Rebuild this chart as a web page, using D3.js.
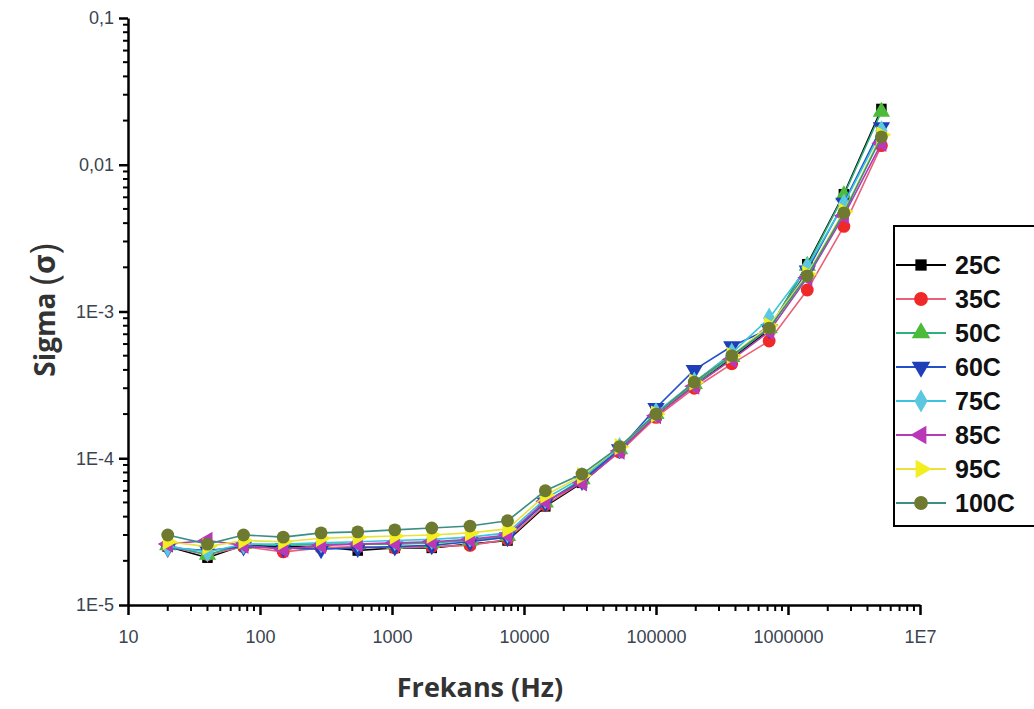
<!DOCTYPE html>
<html>
<head>
<meta charset="utf-8">
<script src="https://cdn.jsdelivr.net/npm/d3@7"></script>
<style>
  body { margin: 0; background: #fff; }
  svg { display: block; }
</style>
</head>
<body>
<svg id="chart" width="1034" height="709"></svg>
<script>
const frequencies = [20, 40, 75, 150, 290, 550, 1050, 2000, 3900, 7500, 14500, 27500, 53000, 100000, 195000, 375000, 720000, 1400000, 2650000, 5100000];

const seriesNames = ["25C", "35C", "50C", "60C", "75C", "85C", "95C", "100C"];

const s25C  = [2.5e-5, 2.1e-5, 2.55e-5, 2.5e-5, 2.5e-5, 2.35e-5, 2.45e-5, 2.45e-5, 2.6e-5, 2.75e-5, 4.7e-5, 6.8e-5, 1.12e-4, 1.95e-4, 3.2e-4, 4.8e-4, 7.5e-4, 2.1e-3, 6.3e-3, 2.4e-2];
const s35C  = [2.5e-5, 2.2e-5, 2.5e-5, 2.3e-5, 2.45e-5, 2.5e-5, 2.45e-5, 2.5e-5, 2.55e-5, 2.8e-5, 4.8e-5, 6.9e-5, 1.1e-4, 1.9e-4, 3.0e-4, 4.4e-4, 6.3e-4, 1.4e-3, 3.8e-3, 1.35e-2];
const s50C  = [2.55e-5, 2.2e-5, 2.6e-5, 2.55e-5, 2.6e-5, 2.6e-5, 2.6e-5, 2.65e-5, 2.75e-5, 2.95e-5, 5.0e-5, 7.2e-5, 1.15e-4, 2.0e-4, 3.2e-4, 4.9e-4, 7.7e-4, 2.05e-3, 6.2e-3, 2.3e-2];
const s60C  = [2.45e-5, 2.35e-5, 2.5e-5, 2.45e-5, 2.4e-5, 2.45e-5, 2.5e-5, 2.55e-5, 2.7e-5, 2.9e-5, 5.0e-5, 7.0e-5, 1.15e-4, 2.2e-4, 4.0e-4, 5.8e-4, 7.6e-4, 1.9e-3, 5.5e-3, 1.8e-2];
const s75C  = [2.5e-5, 2.3e-5, 2.6e-5, 2.6e-5, 2.65e-5, 2.7e-5, 2.75e-5, 2.8e-5, 2.9e-5, 3.1e-5, 5.3e-5, 7.4e-5, 1.18e-4, 2.05e-4, 3.3e-4, 5.2e-4, 9.0e-4, 2.0e-3, 5.4e-3, 1.7e-2];
const s85C  = [2.6e-5, 2.75e-5, 2.55e-5, 2.4e-5, 2.55e-5, 2.6e-5, 2.65e-5, 2.7e-5, 2.8e-5, 3.0e-5, 5.1e-5, 6.8e-5, 1.12e-4, 1.95e-4, 3.1e-4, 4.7e-4, 7.3e-4, 1.7e-3, 4.5e-3, 1.4e-2];
const s95C  = [2.7e-5, 2.5e-5, 2.75e-5, 2.7e-5, 2.85e-5, 2.9e-5, 2.95e-5, 3.0e-5, 3.1e-5, 3.3e-5, 5.6e-5, 7.6e-5, 1.2e-4, 2.0e-4, 3.3e-4, 5.0e-4, 8.0e-4, 1.8e-3, 4.8e-3, 1.6e-2];
const s100C = [3.0e-5, 2.6e-5, 3.0e-5, 2.9e-5, 3.1e-5, 3.15e-5, 3.25e-5, 3.35e-5, 3.45e-5, 3.75e-5, 6.0e-5, 7.8e-5, 1.2e-4, 2.0e-4, 3.3e-4, 5.0e-4, 7.7e-4, 1.75e-3, 4.7e-3, 1.55e-2];

const seriesValues = [s25C, s35C, s50C, s60C, s75C, s85C, s95C, s100C];

const xTickValues = [10, 100, 1000, 10000, 100000, 1000000, 10000000];
const xTickLabels = ["10", "100", "1000", "10000", "100000", "1000000", "1E7"];
const yTickValues = [1e-5, 1e-4, 1e-3, 1e-2, 1e-1];
const yTickLabels = ["1E-5", "1E-4", "1E-3", "0,01", "0,1"];

// styling (not data)
const lineColors   = ["#000000", "#e8607a", "#2fae7e", "#2250c8", "#3cc4dc", "#b23cb0", "#e8e23a", "#3a8f84"];
const markerColors = ["#000000", "#f02828", "#4cbb3a", "#1f3fb8", "#5cc8e0", "#b838b8", "#f2ee20", "#6e7a30"];
const markerTypes  = [d3.symbolSquare, d3.symbolCircle, d3.symbolTriangle, "down", d3.symbolDiamond, "left", "right", d3.symbolCircle];

const svg = d3.select("#chart");
const mLeft = 128, mRight = 920, mTop = 18, mBottom = 605;

const x = d3.scaleLog().domain([10, 1e7]).range([mLeft, mRight]);
const y = d3.scaleLog().domain([1e-5, 0.1]).range([mBottom, mTop]);

function markerPath(t, size) {
  if (t === "down" || t === "left" || t === "right") {
    return d3.symbol().type(d3.symbolTriangle).size(size)();
  }
  return d3.symbol().type(t).size(t === d3.symbolSquare ? size * 0.85 : size)();
}
function markerRot(t) {
  if (t === "down") return 180;
  if (t === "left") return -90;
  if (t === "right") return 90;
  return 0;
}

// minor ticks
const minorX = [];
for (let e = 1; e < 7; e++) for (let m = 2; m <= 9; m++) minorX.push(m * Math.pow(10, e));
const minorY = [];
for (let e = -5; e < -1; e++) for (let m = 2; m <= 9; m++) minorY.push(m * Math.pow(10, e));

const axisG = svg.append("g");

// X axis
const xAxis = d3.axisBottom(x).tickValues(xTickValues)
  .tickFormat((d, i) => xTickLabels[i]).tickSize(10).tickSizeOuter(0);
const gx = axisG.append("g").attr("transform", `translate(0,${mBottom})`).call(xAxis);
gx.select(".domain").attr("stroke", "#000").attr("stroke-width", 2.5);
gx.selectAll(".tick line").attr("stroke", "#000").attr("stroke-width", 2.5);
gx.selectAll(".tick text").attr("font-family", "Arial, 'Liberation Sans', sans-serif")
  .attr("font-size", 18).attr("fill", "#3a4450").attr("dy", "1.4em");
gx.selectAll(".minor").data(minorX).enter().append("line")
  .attr("x1", d => x(d)).attr("x2", d => x(d)).attr("y1", 0).attr("y2", 6)
  .attr("stroke", "#000").attr("stroke-width", 2);

// Y axis
const yAxis = d3.axisLeft(y).tickValues(yTickValues)
  .tickFormat((d, i) => yTickLabels[i]).tickSize(9).tickSizeOuter(0);
const gy = axisG.append("g").attr("transform", `translate(${mLeft},0)`).call(yAxis);
gy.select(".domain").attr("stroke", "#000").attr("stroke-width", 2.5);
gy.selectAll(".tick line").attr("stroke", "#000").attr("stroke-width", 2.5);
gy.selectAll(".tick text").attr("font-family", "Arial, 'Liberation Sans', sans-serif")
  .attr("font-size", 18).attr("fill", "#3a4450").attr("x", -14);
gy.selectAll(".minor").data(minorY).enter().append("line")
  .attr("x1", 0).attr("x2", -5).attr("y1", d => y(d)).attr("y2", d => y(d))
  .attr("stroke", "#000").attr("stroke-width", 2);

// Axis titles
svg.append("text").attr("x", 480).attr("y", 697).attr("text-anchor", "middle")
  .attr("font-family", "'Open Sans', 'DejaVu Sans', sans-serif").attr("font-weight", "bold")
  .attr("font-size", 27).attr("fill", "#333").text("Frekans (Hz)");
const yt = svg.append("text").attr("transform", "translate(55,310) rotate(-90)").attr("text-anchor", "middle")
  .attr("font-family", "'Open Sans', 'DejaVu Sans', sans-serif").attr("font-weight", "bold")
  .attr("font-size", 28).attr("fill", "#333");
yt.append("tspan").text("Sigma ");
yt.append("tspan").attr("font-size", 38).attr("font-weight", "normal").attr("dy", 3).text("(");
yt.append("tspan").attr("font-size", 30).attr("dy", -3).text("σ");
yt.append("tspan").attr("font-size", 38).attr("font-weight", "normal").attr("dy", 3).text(")");

// Series
const line = d3.line().x((d, i) => x(frequencies[i])).y(d => y(d));
const plot = svg.append("g");
seriesValues.forEach((vals, si) => {
  const g = plot.append("g");
  g.append("path").datum(vals).attr("d", line).attr("fill", "none")
    .attr("stroke", lineColors[si]).attr("stroke-width", 1.6);
  g.selectAll("path.m").data(vals).enter().append("path").attr("class", "m")
    .attr("d", markerPath(markerTypes[si], 130))
    .attr("transform", (d, i) => `translate(${x(frequencies[i])},${y(d)}) rotate(${markerRot(markerTypes[si])})`)
    .attr("fill", markerColors[si]);
});

// Legend
const lg = svg.append("g");
lg.append("rect").attr("x", 894).attr("y", 226).attr("width", 150).attr("height", 300)
  .attr("fill", "#fff").attr("stroke", "#000").attr("stroke-width", 2);
seriesNames.forEach((name, i) => {
  const yy = 265 + i * 34;
  lg.append("line").attr("x1", 896).attr("x2", 946).attr("y1", yy).attr("y2", yy)
    .attr("stroke", lineColors[i]).attr("stroke-width", 2);
  lg.append("path").attr("d", markerPath(markerTypes[i], 150))
    .attr("transform", `translate(921,${yy}) rotate(${markerRot(markerTypes[i])})`)
    .attr("fill", markerColors[i]);
  lg.append("text").attr("x", 955).attr("y", yy + 9)
    .attr("font-family", "Arial, 'Liberation Sans', sans-serif").attr("font-weight", "bold")
    .attr("font-size", 25).attr("fill", "#111").text(name);
});
</script>
</body>
</html>
